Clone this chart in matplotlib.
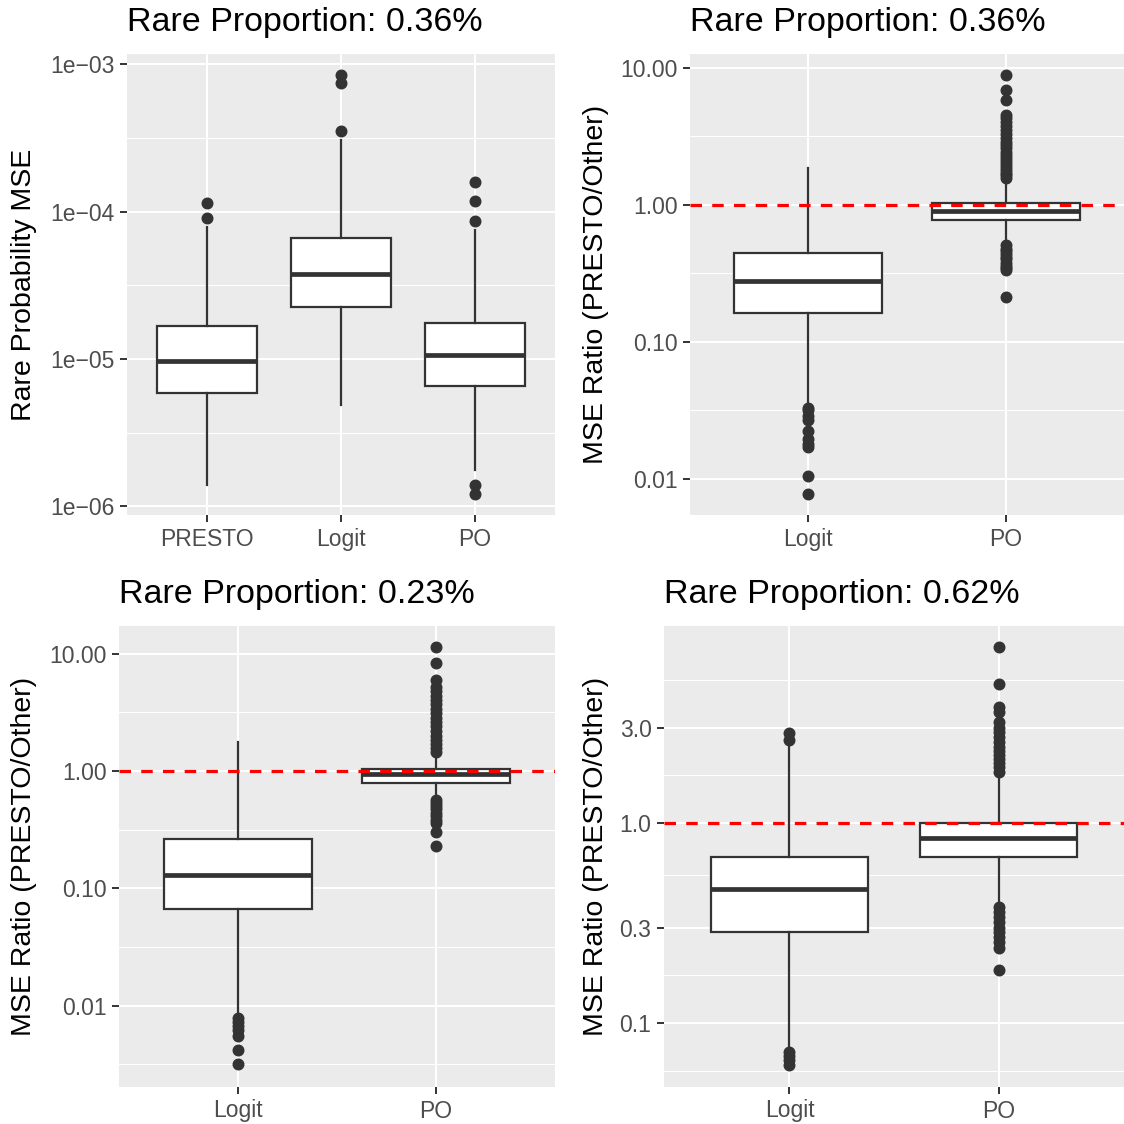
import matplotlib
matplotlib.use('Agg')
import matplotlib.pyplot as plt
from matplotlib.ticker import FixedLocator, NullFormatter

plt.rcParams['font.family'] = ['Liberation Sans', 'DejaVu Sans']

# ---- data (box statistics) ----
# panel 1: rare probability MSE, rare proportion 0.36%
p1_methods = ['PRESTO', 'Logit', 'PO']
p1_whislo = [1.40e-6, 4.88e-6, 1.76e-6]
p1_q1 = [5.85e-6, 2.26e-5, 6.56e-6]
p1_med = [9.7e-6, 3.76e-5, 1.065e-5]
p1_q3 = [1.68e-5, 6.6e-5, 1.75e-5]
p1_whishi = [7.9e-5, 3.07e-4, 7.5e-5]
p1_fliers = [[1.15e-4, 9.0e-5],
             [8.47e-4, 7.44e-4, 3.53e-4],
             [1.6e-4, 1.18e-4, 8.69e-5, 1.4e-6, 1.22e-6]]

# panel 2: MSE ratio, rare proportion 0.36%
p2_methods = ['Logit', 'PO']
p2_whislo = [0.0359, 0.555]
p2_q1 = [0.162, 0.777]
p2_med = [0.279, 0.909]
p2_q3 = [0.449, 1.03]
p2_whishi = [1.87, 1.40]
p2_fliers = [[0.0330, 0.0318, 0.0290, 0.0268, 0.0225, 0.0195, 0.0180, 0.0172, 0.0106, 0.0078],
             [8.85, 6.96, 5.81, 4.54, 4.3, 4.0, 3.75, 3.5, 3.3, 3.1, 2.9, 2.75, 2.6, 2.45,
              2.3, 2.2, 2.1, 2.0, 1.9, 1.8, 1.72, 1.65, 1.57,
              0.511, 0.48, 0.46, 0.44, 0.42, 0.40, 0.38, 0.36, 0.345, 0.336, 0.214]]

# panel 3: MSE ratio, rare proportion 0.23%
p3_methods = ['Logit', 'PO']
p3_whislo = [0.00865, 0.604]
p3_q1 = [0.0667, 0.79]
p3_med = [0.1298, 0.943]
p3_q3 = [0.263, 1.034]
p3_whishi = [1.77, 1.32]
p3_fliers = [[0.00784, 0.00724, 0.0067, 0.0062, 0.0055, 0.00419, 0.00316],
             [11.5, 8.28, 5.97, 5.2, 4.8, 4.4, 4.0, 3.7, 3.4, 3.1, 2.85, 2.6, 2.4, 2.2,
              2.0, 1.85, 1.7, 1.58, 1.46,
              0.566, 0.53, 0.50, 0.47, 0.44, 0.41, 0.385, 0.358, 0.304, 0.231]]

# panel 4: MSE ratio, rare proportion 0.62%
p4_methods = ['Logit', 'PO']
p4_whislo = [0.0761, 0.404]
p4_q1 = [0.285, 0.678]
p4_med = [0.468, 0.838]
p4_q3 = [0.676, 1.0]
p4_whishi = [2.43, 1.70]
p4_fliers = [[2.82, 2.60, 0.0719, 0.0684, 0.0653, 0.0617],
             [7.61, 4.95, 3.82, 3.6, 3.2, 3.0, 2.85, 2.7, 2.55, 2.4, 2.3, 2.2, 2.1, 2.0,
              1.9, 1.805,
              0.381, 0.36, 0.34, 0.32, 0.30, 0.285, 0.27, 0.255, 0.236, 0.184]]

W = H = 1124
fig = plt.figure(figsize=(11.24, 11.24), dpi=100)

dark = '#333333'
txt = '#4D4D4D'


def panel(left, top, right, bottom):
    return fig.add_axes([left / W, 1 - bottom / H, (right - left) / W, (bottom - top) / H])


def draw(ax, methods, whislo, q1, med, q3, whishi, fliers, ylim, yticks, ylabels,
         title, ylabel, ylabel_x, ref=False):
    stats = []
    for i in range(len(methods)):
        stats.append(dict(label=methods[i], whislo=whislo[i], q1=q1[i], med=med[i],
                          q3=q3[i], whishi=whishi[i], fliers=fliers[i]))
    pos = list(range(1, len(methods) + 1))
    ax.set_facecolor('#EBEBEB')
    ax.set_yscale('log')
    ax.bxp(stats, positions=pos, widths=0.75, patch_artist=True, showcaps=False,
           boxprops=dict(facecolor='white', edgecolor=dark, linewidth=1.6),
           whiskerprops=dict(color=dark, linewidth=1.6),
           medianprops=dict(color=dark, linewidth=3.4, solid_capstyle='butt'),
           flierprops=dict(marker='o', markerfacecolor=dark, markeredgecolor=dark,
                           markersize=7.6, linestyle='none'),
           zorder=3)
    if ref:
        ax.axhline(1.0, color='red', linewidth=2.3, linestyle=(0, (3.6, 3.2)), zorder=5)
    ax.set_xlim(0.4, len(methods) + 0.6)
    ax.set_ylim(*ylim)
    ax.set_xticks(pos)
    ax.set_xticklabels(methods)
    ax.yaxis.set_major_locator(FixedLocator(yticks))
    ax.set_yticklabels(ylabels)
    # minor grid halfway between majors (in log space), like ggplot
    import math
    lg = [math.log10(v) for v in yticks]
    mins = [(lg[i] + lg[i + 1]) / 2 for i in range(len(lg) - 1)]
    mins = [lg[0] - (lg[1] - lg[0]) / 2] + mins + [lg[-1] + (lg[-1] - lg[-2]) / 2]
    ax.yaxis.set_minor_locator(FixedLocator([10 ** m for m in mins]))
    ax.yaxis.set_minor_formatter(NullFormatter())
    ax.grid(True, which='major', color='white', linewidth=1.5, zorder=0)
    ax.grid(True, which='minor', axis='y', color='white', linewidth=0.75, zorder=0)
    ax.set_axisbelow(True)
    ax.tick_params(which='major', length=5, width=1.4, color=dark, labelcolor=txt,
                   labelsize=16.5, pad=4)
    ax.tick_params(which='minor', length=0)
    for s in ax.spines.values():
        s.set_visible(False)
    ax.annotate(title, xy=(0, 1), xycoords='axes fraction', xytext=(0, 32),
                textcoords='offset pixels', ha='left', va='center', fontsize=24.5,
                color='black')
    bb = ax.get_position()
    fig.text(ylabel_x / W, bb.y0 + bb.height / 2, ylabel, rotation=90, ha='center',
             va='center', fontsize=20.5, color='black')


ax1 = panel(127, 54, 555, 515)
draw(ax1, p1_methods, p1_whislo, p1_q1, p1_med, p1_q3, p1_whishi, p1_fliers,
     (10 ** -6.059, 10 ** -2.929), [1e-6, 1e-5, 1e-4, 1e-3],
     ['1e\u221206', '1e\u221205', '1e\u221204', '1e\u221203'],
     'Rare Proportion: 0.36%', 'Rare Probability MSE', 24)

ax2 = panel(690, 54, 1124, 515)
draw(ax2, p2_methods, p2_whislo, p2_q1, p2_med, p2_q3, p2_whishi, p2_fliers,
     (10 ** -2.263, 10 ** 1.102), [0.01, 0.1, 1, 10],
     ['0.01', '0.10', '1.00', '10.00'],
     'Rare Proportion: 0.36%', 'MSE Ratio (PRESTO/Other)', 596, ref=True)

ax3 = panel(119, 626, 555, 1087)
draw(ax3, p3_methods, p3_whislo, p3_q1, p3_med, p3_q3, p3_whishi, p3_fliers,
     (10 ** -2.694, 10 ** 1.236), [0.01, 0.1, 1, 10],
     ['0.01', '0.10', '1.00', '10.00'],
     'Rare Proportion: 0.23%', 'MSE Ratio (PRESTO/Other)', 24, ref=True)

ax4 = panel(664, 626, 1124, 1087)
draw(ax4, p4_methods, p4_whislo, p4_q1, p4_med, p4_q3, p4_whishi, p4_fliers,
     (10 ** -1.32, 10 ** 0.985), [0.1, 0.3, 1.0, 3.0],
     ['0.1', '0.3', '1.0', '3.0'],
     'Rare Proportion: 0.62%', 'MSE Ratio (PRESTO/Other)', 596, ref=True)

fig.savefig('out.png', dpi=100, facecolor='white')
